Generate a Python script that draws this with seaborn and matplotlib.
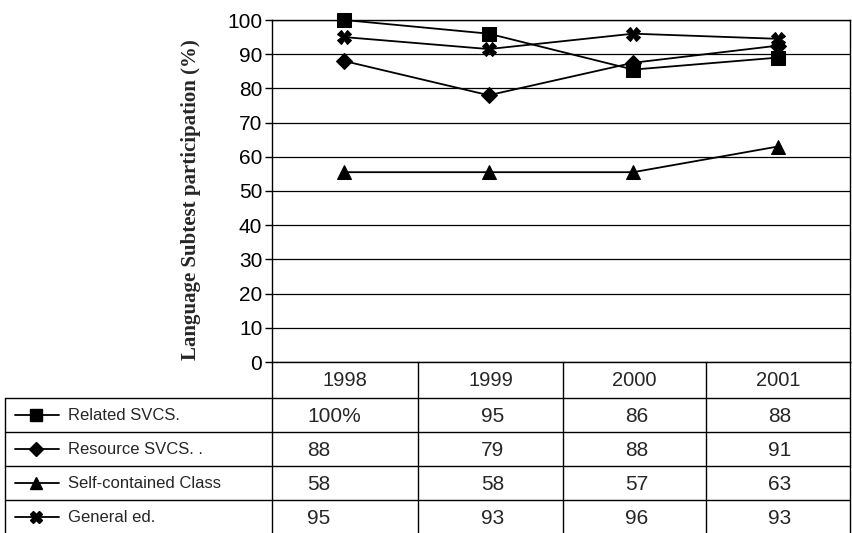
import pandas as pd
import matplotlib
matplotlib.use("Agg")
import matplotlib.pyplot as plt
import seaborn as sns

# values (line positions)
years = ["1998", "1999", "2000", "2001"]
related = [100, 96, 85.5, 89]
resource = [88, 78, 87.5, 92.5]
self_contained = [55.5, 55.5, 55.5, 63]
general = [95, 91.5, 96, 94.5]

series_names = ["Related SVCS.", "Resource SVCS. .", "Self-contained Class", "General ed."]

# values printed in the data table
table_related = ["100%", "95", "86", "88"]
table_resource = ["88", "79", "88", "91"]
table_self = ["58", "58", "57", "63"]
table_general = ["95", "93", "96", "93"]

marker_map = {"Related SVCS.": "s", "Resource SVCS. .": "D",
              "Self-contained Class": "^", "General ed.": "X"}
size_map = {"s": 10, "D": 8.5, "^": 10, "X": 9.5}

rows = []
for name, vals in zip(series_names, [related, resource, self_contained, general]):
    for i, v in enumerate(vals):
        rows.append({"x": i, "year": years[i], "value": v, "series": name})
df = pd.DataFrame(rows)

sns.set_style("white")
plt.rcParams["font.family"] = ["Liberation Sans", "DejaVu Sans"]

W, H = 852, 533
fig = plt.figure(figsize=(W / 100, H / 100), dpi=100)
ax = fig.add_axes([272 / W, 1 - 362 / H, (850 - 272) / W, (362 - 20) / H])

for name in series_names:
    sub = df[df["series"] == name]
    m = marker_map[name]
    sns.lineplot(data=sub, x="x", y="value", ax=ax, color="black", lw=1.3,
                 marker=m, markersize=size_map[m], markeredgecolor="black",
                 markerfacecolor="black", legend=False, clip_on=False, zorder=5)

ax.set_xlim(-0.5, 3.5)
ax.set_ylim(0, 100)
ax.set_yticks(range(0, 101, 10))
ax.set_xticks([])
ax.set_xlabel("")
ax.tick_params(axis="y", labelsize=15, length=5, width=1, direction="out",
               left=True, pad=2, colors="black")
ax.grid(axis="y", color="black", lw=0.9)
for s in ax.spines.values():
    s.set_color("black")
    s.set_linewidth(1)
ax.set_ylabel("Language Subtest participation (%)", family="Liberation Serif",
              fontweight="bold", fontsize=15)
ax.yaxis.set_label_coords(-0.122, 0.475)

# data table below the chart
tab = fig.add_axes([0, 0, 1, 1])
tab.set_xlim(0, W)
tab.set_ylim(H, 0)
tab.axis("off")
tab.patch.set_alpha(0)

col_edges = [272, 418, 563, 706, 850]
row_tops = [398, 432, 466, 500]
row_h = 34
lk = dict(color="black", lw=1)
for y in row_tops:
    tab.plot([5, 850], [y, y], **lk)
tab.plot([5, 5], [398, H], **lk)
for x in col_edges:
    tab.plot([x, x], [362, H], **lk)

col_centers = [(col_edges[i] + col_edges[i + 1]) / 2 for i in range(4)]
for c, yr in zip(col_centers, years):
    tab.text(c, 381, yr, ha="center", va="center", fontsize=14.5)

table_vals = [table_related, table_resource, table_self, table_general]
for r, (name, vals) in enumerate(zip(series_names, table_vals)):
    yc = row_tops[r] + row_h / 2
    m = marker_map[name]
    tab.plot([15, 59], [yc, yc], color="black", lw=1.3)
    tab.plot([36], [yc], marker=m, color="black", markersize=size_map[m] * 0.85)
    tab.text(68, yc, name, ha="left", va="center", fontsize=12)
    for i, v in enumerate(vals):
        if i == 0:
            tab.text(307, yc + 1, v, ha="left", va="center", fontsize=15)
        else:
            tab.text(col_centers[i] + 2, yc + 1, v, ha="center", va="center", fontsize=15)

fig.savefig("out.png", dpi=100)
